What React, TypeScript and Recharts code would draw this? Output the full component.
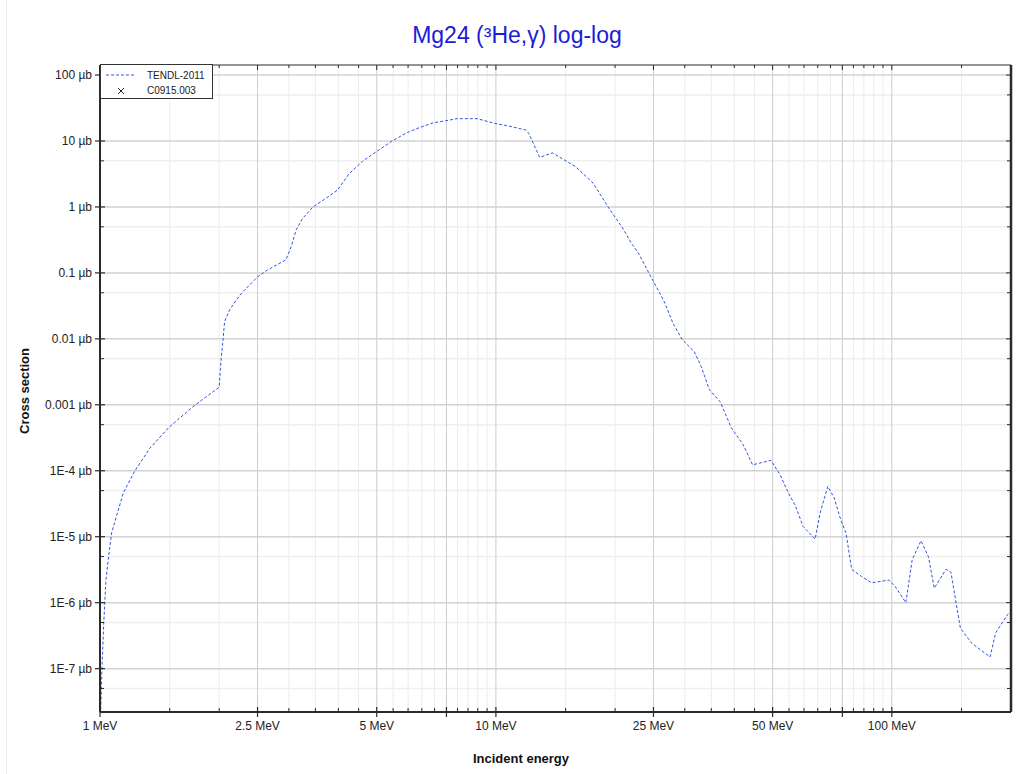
import React from 'react';
import { LineChart, Line, XAxis, YAxis, CartesianGrid, Legend, Customized } from 'recharts';

// Incident energy (MeV)
const energies = [
  1.0, 1.012, 1.022, 1.035, 1.049, 1.07, 1.145, 1.225, 1.337, 1.49, 1.714, 2.0,
  2.02, 2.045, 2.064, 2.125, 2.21, 2.297, 2.505, 2.65, 2.95,
  3.04, 3.13, 3.25, 3.45, 3.72, 3.98, 4.26, 4.6, 4.99, 5.48, 5.98, 6.4, 6.95, 7.47, 7.98,
  8.97, 9.93, 10.77, 11.89, 12.1, 12.9, 13.9, 15.9, 17.6, 19.2, 20.8, 22.0, 22.9, 25.0,
  26.6, 28.0, 29.6, 31.7, 33.0, 34.6, 36.9, 39.3, 42.1, 44.5, 49.5, 52.2, 54.8, 57.0,
  59.7, 64.0, 65.9, 68.9, 71.5, 74.3, 76.6, 79.2, 83.8, 88.9, 98.3, 101.9, 108.5, 112.6,
  118.5, 123.7, 128, 137, 141, 149, 159, 177, 183, 196, 200,
];

// TENDL-2011 cross section (µb)
const tendl = [
  1e-8, 1.1e-7, 4.9e-7, 2.2e-6, 4.5e-6, 1.15e-5, 4.6e-5, 1.0e-4, 2.2e-4, 4.5e-4, 9.3e-4, 1.85e-3,
  4.5e-3, 9.6e-3, 0.0183, 0.0275, 0.039, 0.052, 0.088, 0.111, 0.158,
  0.25, 0.45, 0.67, 1.0, 1.35, 1.8, 3.2, 4.9, 6.9, 10.1, 13.5, 15.9, 18.9, 20.3, 21.8,
  21.8, 18.5, 16.9, 14.7, 13.1, 5.66, 6.6, 4.08, 2.3, 1.0, 0.5, 0.28, 0.2, 0.074,
  0.037, 0.0173, 0.0096, 0.0064, 0.0038, 0.0017, 1.1e-3, 4.5e-4, 2.5e-4, 1.23e-4, 1.44e-4, 8.7e-5, 4.6e-5, 3.0e-5,
  1.43e-5, 9.2e-6, 2.29e-5, 5.8e-5, 3.9e-5, 1.8e-5, 1.14e-5, 3.2e-6, 2.5e-6, 2.0e-6, 2.2e-6, 1.77e-6, 1.0e-6, 4.5e-6,
  8.7e-6, 5.0e-6, 1.66e-6, 3.2e-6, 2.9e-6, 4.1e-7, 2.45e-7, 1.5e-7, 3.5e-7, 6.6e-7, 7.4e-7,
];

const seriesNames = ['TENDL-2011', 'C0915.003'];

const xMajorTicks = [1, 2.5, 5, 7.5, 10, 25, 50, 75, 100];
const xMinorTicks = [1.5, 2, 3, 3.5, 4, 4.5, 5.5, 6, 6.5, 7, 8, 8.5, 9, 9.5, 15, 20, 30, 35, 40, 45, 55, 60, 65, 70, 80, 85, 90, 95, 150];
const xLabelTicks = [1, 2.5, 5, 10, 25, 50, 100];
const xLabels = ['1 MeV', '2.5 MeV', '5 MeV', '10 MeV', '25 MeV', '50 MeV', '100 MeV'];

const yMajorTicks = [1e-7, 1e-6, 1e-5, 1e-4, 0.001, 0.01, 0.1, 1, 10, 100];
const yMinorTicks = [5e-8, 5e-7, 5e-6, 5e-5, 5e-4, 0.005, 0.05, 0.5, 5, 50];
const yLabels = ['1E-7 µb', '1E-6 µb', '1E-5 µb', '1E-4 µb', '0.001 µb', '0.01 µb', '0.1 µb', '1 µb', '10 µb', '100 µb'];

const xDomain = [1, 200];
const yDomain = [2.2e-8, 142];

const data = energies.map((e, i) => ({ e, v: tendl[i] }));
const xAllTicks = [...xMajorTicks, ...xMinorTicks].sort((a, b) => a - b);
const yAllTicks = [...yMajorTicks, ...yMinorTicks].sort((a, b) => a - b);

const FONT = '"Liberation Sans", Arial, Helvetica, sans-serif';
const AXIS = '#2a2a2a';
const LINE_COLOR = '#3355e0';

const XTickBottom = (props: any) => {
  const { x, y, payload } = props;
  const v = payload.value;
  const major = xMajorTicks.includes(v);
  const li = xLabelTicks.indexOf(v);
  return (
    <g>
      {major ? (
        <line x1={x} x2={x} y1={y - 5} y2={y + 5} stroke={AXIS} strokeWidth={1.2} />
      ) : (
        <line x1={x} x2={x} y1={y - 4} y2={y} stroke={AXIS} strokeWidth={1} />
      )}
      {li >= 0 && (
        <text x={x} y={y + 18} textAnchor="middle" fontSize={12} fontFamily={FONT} fill="#222">
          {xLabels[li]}
        </text>
      )}
    </g>
  );
};

const XTickTop = (props: any) => {
  const { x, y, payload } = props;
  const major = xMajorTicks.includes(payload.value);
  return <line x1={x} x2={x} y1={y} y2={y + (major ? 5 : 3)} stroke={AXIS} strokeWidth={1} />;
};

const YTickLeft = (props: any) => {
  const { x, y, payload } = props;
  const v = payload.value;
  const li = yMajorTicks.indexOf(v);
  return (
    <g>
      {li >= 0 ? (
        <line x1={x - 5} x2={x + 5} y1={y} y2={y} stroke={AXIS} strokeWidth={1.2} />
      ) : (
        <line x1={x} x2={x + 4} y1={y} y2={y} stroke={AXIS} strokeWidth={1} />
      )}
      {li >= 0 && (
        <text x={x - 8} y={y + 4} textAnchor="end" fontSize={12} fontFamily={FONT} fill="#222">
          {yLabels[li]}
        </text>
      )}
    </g>
  );
};

const YTickRight = (props: any) => {
  const { x, y, payload } = props;
  const major = yMajorTicks.includes(payload.value);
  return <line x1={x - (major ? 5 : 4)} x2={x} y1={y} y2={y} stroke={AXIS} strokeWidth={1} />;
};

const LegendBox = () => (
  <div
    style={{
      border: '1px solid #333',
      background: '#fff',
      width: 113,
      height: 35,
      boxSizing: 'border-box',
      fontFamily: FONT,
      color: '#222',
      position: 'relative',
    }}
  >
    <svg width={111} height={33} style={{ position: 'absolute', left: 0, top: 0 }}>
      <line x1={5} x2={33} y1={10} y2={10} stroke={LINE_COLOR} strokeDasharray="3 2" strokeWidth={1.2} />
      <path d="M17 23 L23 29 M23 23 L17 29" stroke="#222" strokeWidth={1} />
      <text x={46} y={14} fontSize={10} fontFamily={FONT} fill="#222">{seriesNames[0]}</text>
      <text x={46} y={29} fontSize={10} fontFamily={FONT} fill="#222">{seriesNames[1]}</text>
    </svg>
  </div>
);

const Titles = () => (
  <g>
    <line x1={6.5} x2={6.5} y1={0} y2={774} stroke="#ececec" strokeWidth={1} />
    <text x={517} y={43} textAnchor="middle" fontSize={23} fontFamily={FONT} fill="#1c1cd6">
      Mg24 (³He,γ) log-log
    </text>
    <text x={521} y={763} textAnchor="middle" fontSize={13} fontWeight="bold" fontFamily={FONT} fill="#111">
      Incident energy
    </text>
    <text
      x={29}
      y={391}
      textAnchor="middle"
      fontSize={13}
      fontWeight="bold"
      fontFamily={FONT}
      fill="#111"
      transform="rotate(-90 29 391)"
    >
      Cross section
    </text>
  </g>
);

export default function App() {
  return (
    <div style={{ position: 'absolute', left: 0, top: 0, width: 1020, height: 774, background: '#fff' }}>
      <LineChart width={1020} height={774} data={data} margin={{ top: 64, right: 8, bottom: 61, left: 99 }}>
        <CartesianGrid horizontal={false} vertical verticalValues={xMinorTicks} stroke="#ececec" strokeWidth={1} />
        <CartesianGrid horizontal vertical={false} horizontalValues={yMinorTicks} stroke="#efefef" strokeWidth={1.5} />
        <CartesianGrid horizontal={false} vertical verticalValues={xMajorTicks} stroke="#cccccc" strokeWidth={1} />
        <CartesianGrid horizontal vertical={false} horizontalValues={yMajorTicks} stroke="#d2d2d2" strokeWidth={1.5} />
        <XAxis
          dataKey="e"
          type="number"
          scale="log"
          domain={xDomain}
          allowDataOverflow
          ticks={xAllTicks}
          interval={0}
          height={1}
          tickSize={0}
          tickMargin={0}
          tickLine={false}
          tick={<XTickBottom />}
          axisLine={{ stroke: AXIS, strokeWidth: 2 }}
        />
        <XAxis
          xAxisId="top"
          orientation="top"
          dataKey="e"
          type="number"
          scale="log"
          domain={xDomain}
          allowDataOverflow
          ticks={xAllTicks}
          interval={0}
          height={1}
          tickSize={0}
          tickMargin={0}
          tickLine={false}
          tick={<XTickTop />}
          axisLine={{ stroke: AXIS, strokeWidth: 1 }}
        />
        <YAxis
          type="number"
          scale="log"
          domain={yDomain}
          allowDataOverflow
          ticks={yAllTicks}
          interval={0}
          width={1}
          tickSize={0}
          tickMargin={0}
          tickLine={false}
          tick={<YTickLeft />}
          axisLine={{ stroke: AXIS, strokeWidth: 2 }}
        />
        <YAxis
          yAxisId="right"
          orientation="right"
          type="number"
          scale="log"
          domain={yDomain}
          allowDataOverflow
          ticks={yAllTicks}
          interval={0}
          width={1}
          tickSize={0}
          tickMargin={0}
          tickLine={false}
          tick={<YTickRight />}
          axisLine={{ stroke: AXIS, strokeWidth: 2.5 }}
        />
        <Line
          dataKey="v"
          name={seriesNames[0]}
          type="linear"
          stroke={LINE_COLOR}
          strokeWidth={1}
          strokeDasharray="3 2"
          dot={false}
          activeDot={false}
          isAnimationActive={false}
        />
        <Legend
          layout="horizontal"
          verticalAlign="middle"
          align="center"
          wrapperStyle={{ left: 100, top: 64, width: 113, height: 35 }}
          content={<LegendBox />}
        />
        <Customized component={<Titles />} />
      </LineChart>
    </div>
  );
}
